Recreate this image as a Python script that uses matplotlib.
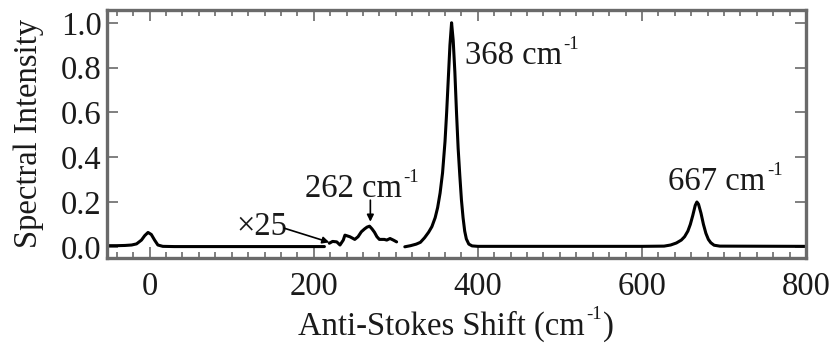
import matplotlib
matplotlib.use("Agg")
import matplotlib.pyplot as plt
from matplotlib.ticker import MultipleLocator

plt.rcParams['font.family'] = ['Liberation Serif', 'DejaVu Serif']

# ---- data ----
# low-frequency segment incl. laser line near 0
seg1_x = [-52, -40, -30, -22, -16, -10, -6, -2, 2, 6, 10, 16, 30, 100, 213]
seg1_y = [0.005, 0.005, 0.006, 0.008, 0.013, 0.03, 0.05, 0.064, 0.055, 0.03, 0.008, 0.002, 0.001, 0.001, 0.001]

# x25 magnified segment around 262 cm-1
seg2_x = [219, 223, 228, 232, 236, 238, 244, 250, 254, 258, 262, 265, 268, 271, 274, 277, 280, 286, 289, 293, 297, 301]
seg2_y = [0.016, 0.024, 0.022, 0.008, 0.03, 0.052, 0.045, 0.033, 0.045, 0.067, 0.080, 0.088, 0.092, 0.08, 0.065, 0.045, 0.033, 0.033, 0.03, 0.037, 0.03, 0.022]

# main segment with 368 and 667 cm-1 peaks
seg3_x = [311, 318, 325, 330, 335, 340, 344, 348, 351, 354, 357, 360, 362, 364, 366, 368,
          370, 372, 374, 376, 378, 380, 382, 384, 386, 389, 393, 400,
          500, 600, 627, 635, 642, 648, 652, 656, 659, 662, 665, 667,
          669, 672, 675, 678, 681, 684, 688, 695, 800]
seg3_y = [0.0, 0.005, 0.012, 0.02, 0.04, 0.065, 0.09, 0.13, 0.175, 0.24, 0.33, 0.47, 0.6, 0.75, 0.9, 1.0,
          0.92, 0.78, 0.6, 0.44, 0.32, 0.21, 0.13, 0.07, 0.035, 0.012, 0.004, 0.002,
          0.002, 0.002, 0.003, 0.008, 0.017, 0.03, 0.045, 0.07, 0.1, 0.14, 0.185, 0.2,
          0.19, 0.15, 0.1, 0.06, 0.033, 0.018, 0.007, 0.003, 0.002]

xticks = [0, 200, 400, 600, 800]
yticks = [0.0, 0.2, 0.4, 0.6, 0.8, 1.0]
ytick_labels = ['0.0', '0.2', '0.4', '0.6', '0.8', '1.0']

FS = 23.5
SUP = 13.5
GRAY = '#6a6a6a'
TXT = '#1a1a1a'

fig = plt.figure(figsize=(8.38, 3.49), dpi=100)
ax = fig.add_axes([107/838, 1-258/349, (806-107)/838, (258-10)/349])

for xs, ys in [(seg1_x, seg1_y), (seg2_x, seg2_y), (seg3_x, seg3_y)]:
    ax.plot(xs, ys, color='black', lw=2.2, solid_joinstyle='round', solid_capstyle='round')

ax.set_xlim(-52, 800)
ax.set_ylim(-0.05, 1.057)
ax.set_xticks(xticks)
ax.set_xticklabels([str(v) for v in xticks])
ax.set_yticks(yticks)
ax.set_yticklabels(ytick_labels)
ax.xaxis.set_minor_locator(MultipleLocator(20))

for sp in ax.spines.values():
    sp.set_color(GRAY)
    sp.set_linewidth(2.4)
ax.tick_params(which='both', direction='in', top=True, right=True, color=GRAY, width=1.2,
               labelsize=FS, labelcolor=TXT)
ax.tick_params(which='major', length=8)
ax.tick_params(which='minor', length=4)
ax.tick_params(axis='x', pad=10)
ax.tick_params(axis='y', pad=4)

def sup_label(x, y, main, sup, **kw):
    t = ax.text(x, y, main, fontsize=FS, ha='left', va='baseline', color=TXT, **kw)
    ax.annotate(sup, xy=(1, 1), xycoords=t, xytext=(1, -9), textcoords='offset points',
                fontsize=SUP, ha='left', va='bottom', color=TXT)
    return t

sup_label(384, 0.816, '368 cm', '-1')
sup_label(632, 0.253, '667 cm', '-1')
sup_label(189, 0.223, '262 cm', '-1')

ax.text(106, 0.052, '\u00d725', fontsize=FS, ha='left', va='baseline', color=TXT)
ax.annotate('', xy=(219, 0.02), xytext=(164, 0.083),
            arrowprops=dict(arrowstyle='-|>', color='black', lw=1.2, mutation_scale=10, shrinkA=0, shrinkB=0))
ax.annotate('', xy=(269, 0.112), xytext=(269, 0.208),
            arrowprops=dict(arrowstyle='-|>', color='black', lw=1.2, mutation_scale=10, shrinkA=0, shrinkB=0))

# axis labels
fig.text(29/838, 1-133/349, 'Spectral Intensity', rotation=90, fontsize=FS,
         ha='center', va='center', color=TXT)
xl = fig.text(298/838, 1-335/349, 'Anti-Stokes Shift (cm', fontsize=FS, ha='left', va='baseline', color=TXT)
s = ax.annotate('-1', xy=(1, 1), xycoords=xl, xytext=(1, -9), textcoords='offset points',
                fontsize=SUP, ha='left', va='bottom', color=TXT, annotation_clip=False)
ax.annotate(')', xy=(1, 0), xycoords=(s, xl), xytext=(1, 0), textcoords='offset points',
            fontsize=FS, ha='left', va='bottom', color=TXT, annotation_clip=False)

fig.savefig('out.png', dpi=100)
